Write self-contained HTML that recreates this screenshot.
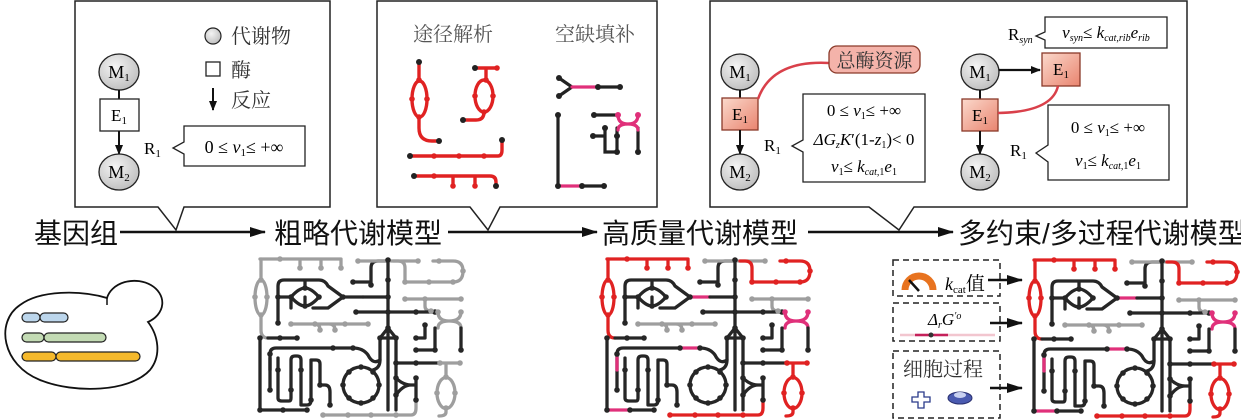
<!DOCTYPE html>
<html><head><meta charset="utf-8"><style>
html,body{margin:0;padding:0;background:#fff;}
svg{display:block}
.s{font-family:"Liberation Serif","Noto Serif CJK SC",serif;}
.c{font-family:"Liberation Sans","Noto Sans CJK SC",sans-serif;}
.z{font-family:"Liberation Serif","Noto Serif CJK SC",serif;}
</style></head><body>
<svg id="s" width="1241" height="419" viewBox="0 0 1241 419" xmlns="http://www.w3.org/2000/svg">
<defs>
<radialGradient id="gm" cx="40%" cy="35%" r="70%"><stop offset="0" stop-color="#f4f4f4"/><stop offset="1" stop-color="#bdbdbd"/></radialGradient>
<linearGradient id="ge" x1="0" y1="0" x2="1" y2="1"><stop offset="0" stop-color="#fbd9cc"/><stop offset="1" stop-color="#e9846f"/></linearGradient>
<marker id="ah" markerWidth="10" markerHeight="8" refX="9" refY="4" orient="auto" markerUnits="userSpaceOnUse"><path d="M0,0 L10,4 L0,8 Z" fill="#111"/></marker>
<marker id="ab" markerWidth="16" markerHeight="10" refX="15" refY="5" orient="auto" markerUnits="userSpaceOnUse"><path d="M0,0 L16,5 L0,10 Z" fill="#111"/></marker>
</defs>

<!-- Panel 1 -->
<path d="M75,1 V207 H158 L176,230 L184,207 H330 V1 Z" fill="#fff" stroke="#222" stroke-width="1.5"/>
<ellipse cx="119" cy="72" rx="20" ry="18" fill="url(#gm)" stroke="#222" stroke-width="1.3"/>
<text x="119" y="78" class="s" font-size="18" text-anchor="middle">M<tspan font-size="11" dy="3">1</tspan></text>
<line x1="119" y1="90" x2="119" y2="99" stroke="#111" stroke-width="2"/>
<rect x="100" y="99" width="39" height="32" fill="#fff" stroke="#222" stroke-width="1.3"/>
<text x="119" y="121" class="s" font-size="17" text-anchor="middle">E<tspan font-size="11" dy="3">1</tspan></text>
<line x1="119" y1="131" x2="119" y2="154" stroke="#111" stroke-width="2" marker-end="url(#ah)"/>
<ellipse cx="119" cy="172" rx="20" ry="18" fill="url(#gm)" stroke="#222" stroke-width="1.3"/>
<text x="119" y="178" class="s" font-size="18" text-anchor="middle">M<tspan font-size="11" dy="3">2</tspan></text>
<circle cx="213" cy="36" r="8" fill="url(#gm)" stroke="#222" stroke-width="1.2"/>
<text x="231" y="43" class="z" font-size="20" fill="#333">代谢物</text>
<rect x="206" y="62" width="14" height="14" fill="#fff" stroke="#222" stroke-width="1.3"/>
<text x="231" y="77" class="z" font-size="20" fill="#333">酶</text>
<line x1="213" y1="88" x2="213" y2="110" stroke="#111" stroke-width="2" marker-end="url(#ah)"/>
<text x="231" y="107" class="z" font-size="20" fill="#333">反应</text>
<text x="144" y="154" class="s" font-size="17">R<tspan font-size="11" dy="3">1</tspan></text>
<path d="M184,126 H305 V166 H184 V154 L173,148 L184,142 Z" fill="#fff" stroke="#222" stroke-width="1.3"/>
<text x="244" y="153" class="s" font-size="18" text-anchor="middle">0 ≤ <tspan font-style="italic">v</tspan><tspan font-size="11" dy="3">1</tspan><tspan dy="-3">≤ +∞</tspan></text>

<!-- Panel 2 -->
<path d="M377,1 V207 H470 L488,230 L500,207 H657 V1 Z" fill="#fff" stroke="#222" stroke-width="1.5"/>
<text x="413" y="41" class="z" font-size="20" fill="#555">途径解析</text>
<text x="555" y="41" class="z" font-size="20" fill="#555">空缺填补</text>
<g fill="none" stroke="#e02222" stroke-width="3.4" stroke-linecap="round">
<path d="M419,62 V80"/><ellipse cx="419.5" cy="99" rx="7.5" ry="18"/><path d="M419,117 V128 Q419,141 432,141 H439"/>
<path d="M475,68 H497 M486,68 V80"/><ellipse cx="484" cy="96" rx="9" ry="16"/><path d="M484,112 Q484,120 476,120 H463"/>
<path d="M410,156 H498 Q502,156 502,150 V140"/>
<path d="M414,176 H490 Q496,176 496,182 V186 M453,176 V186 M475,176 V186"/>
</g>
<g fill="#e02222"><circle cx="419" cy="80" r="2.8"/><circle cx="412" cy="99" r="2.8"/><circle cx="427" cy="99" r="2.8"/><circle cx="419" cy="117" r="2.8"/><circle cx="486" cy="80" r="2.8"/><circle cx="475" cy="96" r="2.8"/><circle cx="493" cy="96" r="2.8"/><circle cx="484" cy="112" r="2.8"/><circle cx="434" cy="156" r="2.8"/><circle cx="459" cy="156" r="2.8"/><circle cx="484" cy="156" r="2.8"/><circle cx="434" cy="176" r="2.8"/><circle cx="453" cy="186" r="2.8"/><circle cx="475" cy="186" r="2.8"/><circle cx="497" cy="68" r="2.8"/></g>
<g fill="#222"><circle cx="419" cy="62" r="3"/><circle cx="439" cy="141" r="3"/><circle cx="475" cy="68" r="3"/><circle cx="463" cy="120" r="3"/><circle cx="410" cy="156" r="3"/><circle cx="502" cy="140" r="3"/><circle cx="414" cy="176" r="3"/><circle cx="496" cy="186" r="3"/></g>
<g fill="none" stroke="#222" stroke-width="3.2" stroke-linecap="round">
<path d="M559,78 L572,87 L559,96 M598,87 H620"/><path d="M558,115 V186 M582,186 H604"/>
<path d="M594,115 H618 M617,128 V152 M638,128 V152 M593,136 H605 V152 H617 M605,128 V136"/>
</g>
<g fill="none" stroke="#e0307a" stroke-width="3.2" stroke-linecap="round"><path d="M572,87 H598 M558,186 H582 M618,115 Q618,124 628,124 Q638,124 638,115 M618,130 Q618,124 628,124 Q638,124 638,130"/></g>
<g fill="#222"><circle cx="559" cy="78" r="3"/><circle cx="559" cy="96" r="3"/><circle cx="598" cy="87" r="3"/><circle cx="620" cy="87" r="3"/><circle cx="558" cy="115" r="3"/><circle cx="558" cy="186" r="3"/><circle cx="582" cy="186" r="3"/><circle cx="604" cy="186" r="3"/><circle cx="594" cy="115" r="3"/><circle cx="617" cy="152" r="3"/><circle cx="638" cy="152" r="3"/><circle cx="593" cy="136" r="3"/><circle cx="605" cy="128" r="3"/><circle cx="617" cy="136" r="3"/></g>
<g fill="#e0307a"><circle cx="618" cy="115" r="3"/><circle cx="638" cy="115" r="3"/></g>

<!-- Panel 3 -->
<path d="M710,1 V207 H869 L899,230 L914,207 H1187 V1 Z" fill="#fff" stroke="#222" stroke-width="1.5"/>
<ellipse cx="740" cy="72" rx="19" ry="18" fill="url(#gm)" stroke="#222" stroke-width="1.3"/>
<text x="740" y="78" class="s" font-size="18" text-anchor="middle">M<tspan font-size="11" dy="3">1</tspan></text>
<line x1="740" y1="90" x2="740" y2="98" stroke="#111" stroke-width="2"/>
<rect x="722" y="98" width="36" height="32" fill="url(#ge)" stroke="#8a3a2a" stroke-width="1.3"/>
<text x="740" y="120" class="s" font-size="17" text-anchor="middle">E<tspan font-size="11" dy="3">1</tspan></text>
<line x1="740" y1="130" x2="740" y2="154" stroke="#111" stroke-width="2" marker-end="url(#ah)"/>
<ellipse cx="740" cy="172" rx="19" ry="18" fill="url(#gm)" stroke="#222" stroke-width="1.3"/>
<text x="740" y="178" class="s" font-size="18" text-anchor="middle">M<tspan font-size="11" dy="3">2</tspan></text>
<path d="M758,99 Q772,60 829,63" fill="none" stroke="#d9404a" stroke-width="2.5"/>
<rect x="829" y="46" width="91" height="27" rx="8" fill="#f4b3aa" stroke="#8a3a2a" stroke-width="1.3"/>
<text x="874.5" y="67" class="z" font-size="19" text-anchor="middle" fill="#333">总酶资源</text>
<text x="764" y="151" class="s" font-size="17">R<tspan font-size="11" dy="3">1</tspan></text>
<path d="M803,94 H925 V182 H803 V152 L792,146 L803,140 Z" fill="#fff" stroke="#222" stroke-width="1.3"/>
<text x="864" y="116" class="s" font-size="17" text-anchor="middle">0 ≤ <tspan font-style="italic">v</tspan><tspan font-size="10" dy="3">1</tspan><tspan dy="-3">≤ +∞</tspan></text>
<text x="864" y="145" class="s" font-size="17" text-anchor="middle"><tspan font-style="italic">ΔG</tspan><tspan font-size="10" dy="3" font-style="italic">z</tspan><tspan dy="-3" font-style="italic">K</tspan>′(1-<tspan font-style="italic">z</tspan><tspan font-size="10" dy="3">1</tspan><tspan dy="-3">)&lt; 0</tspan></text>
<text x="864" y="172" class="s" font-size="17" text-anchor="middle"><tspan font-style="italic">v</tspan><tspan font-size="10" dy="3">1</tspan><tspan dy="-3">≤ </tspan><tspan font-style="italic">k</tspan><tspan font-size="10" dy="3" font-style="italic">cat,</tspan><tspan font-size="10">1</tspan><tspan dy="-3" font-style="italic">e</tspan><tspan font-size="10" dy="3">1</tspan></text>

<ellipse cx="980" cy="72" rx="19" ry="18" fill="url(#gm)" stroke="#222" stroke-width="1.3"/>
<text x="980" y="78" class="s" font-size="18" text-anchor="middle">M<tspan font-size="11" dy="3">1</tspan></text>
<line x1="999" y1="70" x2="1040" y2="70" stroke="#111" stroke-width="2.2" marker-end="url(#ah)"/>
<rect x="1042" y="53" width="38" height="33" fill="url(#ge)" stroke="#8a3a2a" stroke-width="1.3"/>
<text x="1061" y="75" class="s" font-size="17" text-anchor="middle">E<tspan font-size="11" dy="3">1</tspan></text>
<line x1="980" y1="90" x2="980" y2="99" stroke="#111" stroke-width="2"/>
<rect x="962" y="99" width="36" height="32" fill="url(#ge)" stroke="#8a3a2a" stroke-width="1.3"/>
<text x="980" y="121" class="s" font-size="17" text-anchor="middle">E<tspan font-size="11" dy="3">1</tspan></text>
<path d="M998,113 Q1052,112 1058,86" fill="none" stroke="#d9404a" stroke-width="2.5"/>
<line x1="980" y1="131" x2="980" y2="154" stroke="#111" stroke-width="2" marker-end="url(#ah)"/>
<ellipse cx="980" cy="172" rx="19" ry="18" fill="url(#gm)" stroke="#222" stroke-width="1.3"/>
<text x="980" y="178" class="s" font-size="18" text-anchor="middle">M<tspan font-size="11" dy="3">2</tspan></text>
<text x="1008" y="40" class="s" font-size="17">R<tspan font-size="10" dy="3" font-style="italic">syn</tspan></text>
<path d="M1045,17 H1167 V48 H1045 V40 L1036,36 L1045,32 Z" fill="#fff" stroke="#222" stroke-width="1.3"/>
<text x="1106" y="38" class="s" font-size="17" text-anchor="middle" font-style="italic">v<tspan font-size="10" dy="3">syn</tspan><tspan dy="-3" font-style="normal">≤ </tspan>k<tspan font-size="10" dy="3">cat,rib</tspan><tspan dy="-3">e</tspan><tspan font-size="10" dy="3">rib</tspan></text>
<text x="1010" y="156" class="s" font-size="17">R<tspan font-size="11" dy="3">1</tspan></text>
<path d="M1048,105 H1169 V180 H1048 V162 L1036,153 L1048,145 Z" fill="#fff" stroke="#222" stroke-width="1.3"/>
<text x="1108" y="133" class="s" font-size="17" text-anchor="middle">0 ≤ <tspan font-style="italic">v</tspan><tspan font-size="10" dy="3">1</tspan><tspan dy="-3">≤ +∞</tspan></text>
<text x="1108" y="166" class="s" font-size="17" text-anchor="middle"><tspan font-style="italic">v</tspan><tspan font-size="10" dy="3">1</tspan><tspan dy="-3">≤ </tspan><tspan font-style="italic">k</tspan><tspan font-size="10" dy="3" font-style="italic">cat,</tspan><tspan font-size="10">1</tspan><tspan dy="-3" font-style="italic">e</tspan><tspan font-size="10" dy="3">1</tspan></text>

<!-- Main row -->
<g class="c" font-size="28" fill="#111">
<text x="34" y="243">基因组</text>
<text x="274" y="243">粗略代谢模型</text>
<text x="602" y="243">高质量代谢模型</text>
<text x="958" y="243">多约束/多过程代谢模型</text>
</g>
<g stroke="#111" stroke-width="2.5">
<line x1="120" y1="232" x2="265" y2="232" marker-end="url(#ab)"/>
<line x1="448" y1="232" x2="597" y2="232" marker-end="url(#ab)"/>
<line x1="808" y1="232" x2="953" y2="232" marker-end="url(#ab)"/>
</g>

<!-- Genome cell -->
<path d="M107,298 C80,290 40,290 20,305 C-5,322 2,365 40,380 C75,394 130,392 150,370 C162,355 158,335 148,322 A28,22 0 1 0 107,298 Z" fill="#fff" stroke="#111" stroke-width="1.8"/>
<path d="M107,298 V305" stroke="#111" stroke-width="1.5"/>
<g stroke="#222" stroke-width="1.2">
<rect x="22" y="313" width="18" height="9" rx="4.5" fill="#bcd6ec"/><rect x="40" y="313" width="28" height="9" rx="4.5" fill="#bcd6ec"/>
<rect x="22" y="333" width="22" height="9" rx="4.5" fill="#c3dbb4"/><rect x="44" y="333" width="62" height="9" rx="4.5" fill="#c3dbb4"/>
<rect x="22" y="352" width="34" height="9" rx="4.5" fill="#f5b92c"/><rect x="56" y="352" width="84" height="9" rx="4.5" fill="#f5b92c"/>
</g>

<g id="n1" transform="translate(253,250)"></g>
<g id="n2" transform="translate(600,250)"></g>
<g id="n3" transform="translate(1027,251)"></g>

<!-- Panel 4 left -->
<g fill="none" stroke="#222" stroke-width="1.5" stroke-dasharray="6,4">
<rect x="893" y="260" width="107" height="36"/>
<rect x="893" y="303" width="107" height="38"/>
<rect x="893" y="351" width="107" height="67"/>
</g>
<path d="M905,290 A14,14 0 0 1 933,290" fill="none" stroke="#e8731f" stroke-width="7"/>
<line x1="919" y1="291" x2="909" y2="280" stroke="#111" stroke-width="2.5"/>
<text x="945" y="290" class="s" font-size="18" font-style="italic">k<tspan font-size="11" dy="3" font-style="normal">cat</tspan><tspan dy="-3" class="z" font-style="normal" font-size="19">值</tspan></text>
<text x="928" y="325" class="s" font-size="17" font-style="italic">Δ<tspan font-size="10" dy="3">r</tspan><tspan dy="-3">G</tspan><tspan font-size="10" dy="-6">′o</tspan></text>
<line x1="900" y1="335" x2="995" y2="335" stroke="#f2c6cf" stroke-width="2.5"/>
<line x1="915" y1="335" x2="948" y2="335" stroke="#c5205a" stroke-width="2.5"/>
<circle cx="931" cy="335" r="2.5" fill="#333"/>
<text x="903" y="376" class="z" font-size="20" fill="#333">细胞过程</text>
<path d="M918,392 h6 v5 h6 v5 h-6 v6 h-6 v-6 h-6 v-5 h6 z" fill="#fff" stroke="#2a3a8a" stroke-width="1.3"/>
<ellipse cx="960" cy="398" rx="12" ry="6" fill="#4a5ab0" stroke="#2a3070"/>
<ellipse cx="960" cy="395" rx="6" ry="3" fill="#c8d0f0"/>
<g stroke="#111" stroke-width="2.5">
<line x1="988" y1="280" x2="1022" y2="280" marker-end="url(#ab)"/>
<line x1="990" y1="323" x2="1022" y2="323" marker-end="url(#ab)"/>
<line x1="990" y1="388" x2="1022" y2="388" marker-end="url(#ab)"/>
</g>
</svg>
<script>
var S=[
["R","M7,9 H88 V18 M47,9 V18 M68,9 V18"],
["R","M8,9 V30 M8,65 V80 Q8,88 15,88"],
["RE","E8,47.5,6,17.5"],
["K","M15,88 H44 M7,88 V160"],
["P","M7,160 H30"],
["K","M30,160 H54"],
["K","M25,73 V36 Q25,30 31,30 H66 Q72,30 75,36 L90,47 L75,58 H60 M25,47 H38 Q46,38 52,38 Q58,38 66,47 Q58,56 52,56 Q46,56 38,47 M52,38 V30 M52,56 V47 M38,47 V58"],
["P","M90,47 H110"],["K","M110,47 H135"],
["K","M135,10 V160 M127,88 L135,78 L143,88 Z M118,35 V18 Q118,11 125,11 H135 M100,32 H118 M143,88 V160"],
["G","M105,11 H132 M138,11 H165"],
["R","M140,11 H145 Q152,11 152,18 V32 H200 M180,11 H200 Q210,11 210,21 Q210,32 200,32"],
["G","M152,49 H208 M172,49 V56 Q172,61 178,61"],
["K","M103,62 H182"],
["X","M185,62 Q185,71 196,71 Q208,71 208,62 M185,78 Q185,71 196,71 Q208,71 208,78"],
["K","M208,78 V100 M182,78 V100 H163 M172,75 V88 H163"],
["G","M38,74 H115 M62,74 Q67,74 67,80 M76,74 Q82,74 82,80"],
["K","M17,140 V104 Q17,98 23,98 H80"],["P","M80,98 H100 M17,108 V120"],
["K","M100,98 Q110,98 115,105 Q120,115 127,110 V88"],
["K","M25,108 V148 Q25,151 29,151 H36 Q38,151 38,148 V110 Q38,106 42,106 H44 Q48,106 48,110 V155 H54 Q58,155 58,150 V110 H63 Q67,110 67,114 V135 H72 Q77,135 77,142 V155"],
["KC","C108,135,18"],
["K","M127,110 Q127,118 120,120"],
["K","M143,113 H187 M143,128 Q150,135 158,135 H163 V150 M158,135 Q150,135 143,145 M163,128 V135"],
["R","M187,113 H207 M193,113 V127 M193,158 V162 Q193,166 186,166"],
["RE","E193,143,9,15.5"],
["R","M70,165 H158 Q163,165 163,158 V152"]
];
var D=[
["R",[[27,9],[47,18],[68,18],[88,18],[8,30],[2,47],[14,47],[8,65],[187,113],[207,113],[193,127],[184,143],[202,143],[193,158],[70,165],[95,165],[118,165],[143,165],[152,32],[176,32],[200,32],[210,21],[186,11]]],
["K",[[7,88],[27,88],[44,88],[7,160],[30,160],[54,160],[25,73],[25,47],[38,47],[52,38],[52,56],[66,47],[90,47],[135,10],[135,30],[135,47],[118,35],[100,32],[103,62],[135,62],[163,62],[182,62],[135,78],[127,88],[143,88],[208,100],[182,100],[163,100],[172,75],[163,88],[17,104],[17,140],[25,120],[38,140],[48,120],[58,150],[67,135],[77,155],[80,98],[100,98],[143,113],[163,113],[143,128],[163,128],[163,150],[143,145],[108,117],[126,135],[90,135],[108,153],[96,122],[120,122],[96,148],[120,148]]],
["G",[[105,11],[165,11],[152,49],[172,49],[208,49],[178,61],[38,74],[62,74],[92,74],[115,74],[67,80],[82,80]]],
["X",[[185,62],[208,62]]]
];
function build(id,cm){
 var g=document.getElementById(id),h='';
 S.forEach(function(s){var c=cm[s[0].charAt(0)],d=s[1];
  if(s[0]=="RE"){var a=d.slice(1).split(',');h+='<ellipse cx="'+a[0]+'" cy="'+a[1]+'" rx="'+a[2]+'" ry="'+a[3]+'" fill="none" stroke="'+c+'" stroke-width="3.3"/>';}
  else if(s[0]=="KC"){var a=d.slice(1).split(',');h+='<circle cx="'+a[0]+'" cy="'+a[1]+'" r="'+a[2]+'" fill="none" stroke="'+c+'" stroke-width="3.3"/>';}
  else h+='<path d="'+d+'" fill="none" stroke="'+c+'" stroke-width="3.3" stroke-linecap="round" stroke-linejoin="round"/>';});
 D.forEach(function(s){var c=cm[s[0]];s[1].forEach(function(p){h+='<circle cx="'+p[0]+'" cy="'+p[1]+'" r="2.8" fill="'+c+'"/>';});});
 g.innerHTML=h;
}
build("n1",{R:"#9e9e9e",K:"#262626",P:"#262626",G:"#9e9e9e",X:"#9e9e9e"});
build("n2",{R:"#e02222",K:"#262626",P:"#e0307a",G:"#9e9e9e",X:"#e0307a"});
build("n3",{R:"#e02222",K:"#262626",P:"#e0307a",G:"#9e9e9e",X:"#e0307a"});
</script>
</body></html>
